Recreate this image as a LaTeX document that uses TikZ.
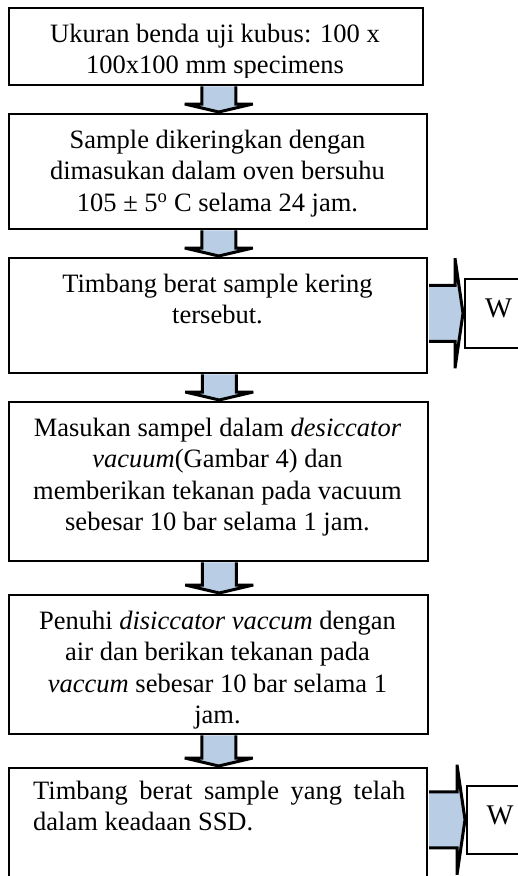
\documentclass[tikz,border=0pt]{standalone}
\usepackage{fontspec}
\setmainfont{Liberation Serif}
\usetikzlibrary{calc}
\definecolor{arrowblue}{RGB}{185,205,229}
\newcommand\fl{\rule{0pt}{21pt}}
\newcommand\downblock[2]{%
  \draw[blockarrow] let \p1=(#1.south), \p2=(#2.north) in
    (\x2-16pt,\y1-0.75pt) -- (\x2-16pt,\y2+9pt) -- (\x2-33pt,\y2+9pt) -- (\x2+1pt,\y2+1pt)
    -- (\x2+35pt,\y2+9pt) -- (\x2+18pt,\y2+9pt) -- (\x2+18pt,\y1-0.75pt);}
\newcommand\sideblock[2]{%
  \draw[blockarrow] let \p1=(#1.east), \p2=(#2.west) in
    (\x1+1.5pt,\y2+28pt) -- (\x2-9pt,\y2+28pt) -- (\x2-9pt,\y2+55pt) -- (\x2-1pt,\y2)
    -- (\x2-9pt,\y2-55pt) -- (\x2-9pt,\y2-28pt) -- (\x1+1.5pt,\y2-28pt);}
\begin{document}
\begin{tikzpicture}[x=1pt,y=-1pt,
  box/.style={draw=black, line width=1.5pt, rectangle, inner sep=0pt, anchor=north west},
  txt/.style={font=\fontsize{26.5}{31.5}\selectfont, align=center, inner sep=0pt, anchor=north},
  jtxt/.style={font=\fontsize{26.5}{31.5}\selectfont, align=justify, text width=372pt, inner sep=0pt, anchor=north west},
  wlabel/.style={font=\fontsize{28.5}{33}\selectfont, inner sep=0pt, anchor=base},
  blockarrow/.style={draw=black, fill=arrowblue, line width=3pt, line join=miter, miter limit=4}]
\useasboundingbox (0,0) rectangle (518,876);
\clip (0,0) rectangle (518,876);
\fill[white] (0,0) rectangle (518,876);
% boxes
\node[box, minimum width=414pt, minimum height=77pt]  (b1) at (8,7) {};
\node[box, minimum width=418pt, minimum height=115pt] (b2) at (8,113) {};
\node[box, minimum width=418pt, minimum height=115pt] (b3) at (8,257) {};
\node[box, minimum width=419pt, minimum height=159pt] (b4) at (8,401) {};
\node[box, minimum width=419pt, minimum height=139pt] (b5) at (8,594) {};
\node[box, minimum width=418pt, minimum height=120pt] (b6) at (8,767) {};
\node[box, minimum width=80pt, minimum height=69pt]   (w1) at (464,278) {};
\node[box, minimum width=80pt, minimum height=68pt]   (w2) at (466,785) {};
% texts
\begin{scope}
  \clip (8,7) rectangle (422,77.5);
  \node[txt] (t1) at (215,21) {\fl Ukuran benda uji kubus: 100 x\\100x100 mm specimens};
\end{scope}
\node[txt] (t2) at (217.5,127) {\fl Sample dikeringkan dengan\\dimasukan dalam oven bersuhu\\105 ± 5\textsuperscript{o} C selama 24 jam.};
\node[txt] (t3) at (217.5,271) {\fl Timbang berat sample kering\\tersebut.};
\node[txt] (t4) at (217.5,415) {\fl Masukan sampel dalam \textit{desiccator}\\\textit{vacuum}(Gambar 4) dan\\memberikan tekanan pada vacuum\\sebesar 10 bar selama 1 jam.};
\node[txt] (t5) at (217.5,608) {\fl Penuhi \textit{disiccator vaccum} dengan\\air dan berikan tekanan pada\\\textit{vaccum} sebesar 10 bar selama 1\\jam.};
\node[jtxt] (t6) at (33,778) {\fl Timbang berat sample yang telah\linebreak dalam keadaan SSD.};
\node[wlabel] (wt1) at (498.5,317) {W};
\node[wlabel] (wt2) at (500,824) {W};
% block arrows
\downblock{b1}{b2}
\downblock{b2}{b3}
\downblock{b3}{b4}
\downblock{b4}{b5}
\downblock{b5}{b6}
\sideblock{b3}{w1}
\sideblock{b6}{w2}
\end{tikzpicture}
\end{document}
